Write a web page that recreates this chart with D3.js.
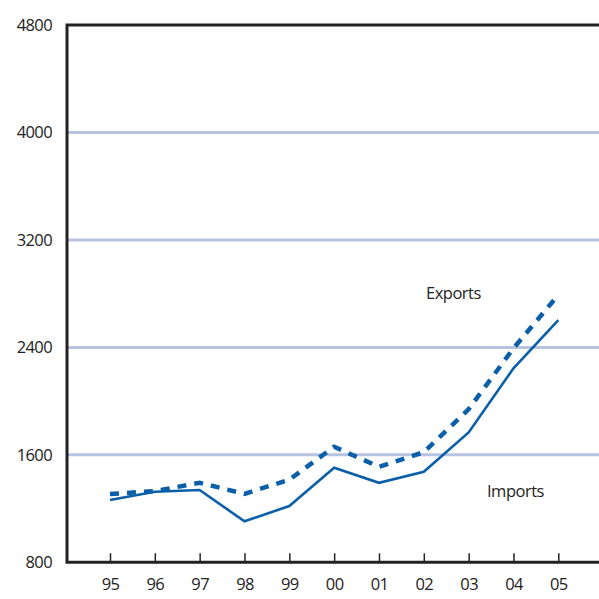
<!DOCTYPE html>
<html><head><meta charset="utf-8">
<script src="https://cdn.jsdelivr.net/npm/d3@7"></script>
<style>body{margin:0;background:#fff}svg{display:block}text{font-family:"Open Sans","Noto Sans",sans-serif;fill:#222}</style>
</head><body>
<svg id="c" width="599" height="599"></svg>
<script>
const years = ["95","96","97","98","99","00","01","02","03","04","05"];
const exportsVals = [1308,1330,1392,1310,1415,1660,1511,1620,1940,2393,2790];
const importsVals = [1264,1325,1338,1105,1219,1504,1392,1474,1767,2244,2603];
const yTicks = [800,1600,2400,3200,4000,4800];
const seriesLabels = ["Exports","Imports"];

const svg = d3.select("#c");
const L = 67, R = 599, T = 25, B = 562.3;
const x = d3.scalePoint().domain(years).range([110, 558.3]);
const y = d3.scaleLinear().domain([800, 4800]).range([B, T]);
const blue = "#0a5fa8";

// gridlines
svg.append("g").selectAll("line").data(yTicks.filter(d => d > 800 && d < 4800)).join("line")
  .attr("x1", L).attr("x2", R).attr("y1", d => y(d)).attr("y2", d => y(d))
  .attr("stroke", "#b8c3e2").attr("stroke-width", 3);

// y labels
svg.append("g").selectAll("text").data(yTicks).join("text")
  .attr("x", 52).attr("y", d => y(d) + 6).attr("text-anchor", "end")
  .attr("font-size", 16.5).attr("letter-spacing", -0.6).text(d => d);

// x axis
const xAxis = d3.axisBottom(x).tickSize(-9).tickPadding(0).tickSizeOuter(0);
const gx = svg.append("g").attr("transform", `translate(0,${B})`).call(xAxis);
gx.select(".domain").remove();
gx.selectAll(".tick line").attr("stroke", "#222").attr("stroke-width", 1.5);
gx.selectAll(".tick text").attr("y", 28).attr("dy", 0).attr("font-size", 16.5)
  .attr("letter-spacing", -0.6).attr("fill", "#222").style("font-family", '"Open Sans","Noto Sans",sans-serif');

// frame
svg.append("path").attr("d", `M${R},${T}H${L}V${B}H${R}`)
  .attr("fill", "none").attr("stroke", "#222").attr("stroke-width", 3);

const line = d3.line().x((d, i) => x(years[i])).y(d => y(d));
svg.append("path").datum(importsVals).attr("d", line)
  .attr("fill", "none").attr("stroke", blue).attr("stroke-width", 2.6);
svg.append("path").datum(exportsVals).attr("d", line)
  .attr("fill", "none").attr("stroke", blue).attr("stroke-width", 4.5)
  .attr("stroke-dasharray", "9,8");

svg.append("text").attr("x", 426).attr("y", 299).attr("font-size", 16.5)
  .attr("letter-spacing", -0.5).text(seriesLabels[0]);
svg.append("text").attr("x", 487).attr("y", 497).attr("font-size", 16.5)
  .attr("letter-spacing", -0.5).text(seriesLabels[1]);
</script>
</body></html>
